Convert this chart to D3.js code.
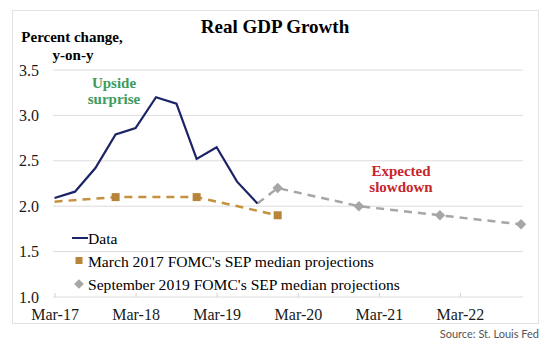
<!DOCTYPE html>
<html>
<head>
<meta charset="utf-8">
<script src="https://cdn.jsdelivr.net/npm/d3@7"></script>
<style>
  body { margin: 0; background: #fff; }
  svg text { font-family: "Liberation Serif", "Times New Roman", serif; }
</style>
</head>
<body>
<div id="chart"></div>
<script>
// quarterly real GDP growth, y-on-y
const dataDates = ["2017-03", "2017-06", "2017-09", "2017-12", "2018-03", "2018-06",
                   "2018-09", "2018-12", "2019-03", "2019-06", "2019-09"];
const dataValues = [2.09, 2.16, 2.42, 2.79, 2.86, 3.2, 3.13, 2.52, 2.65, 2.27, 2.03];

// March 2017 SEP (first point is the starting value, no marker)
const sep17Dates = ["2017-03", "2017-12", "2018-12", "2019-12"];
const sep17Values = [2.05, 2.1, 2.1, 1.9];

// September 2019 SEP (starts from last data point)
const sep19Dates = ["2019-09", "2019-12", "2020-12", "2021-12", "2022-12"];
const sep19Values = [2.03, 2.2, 2.0, 1.9, 1.8];

const tickLabels = ["Mar-17", "Mar-18", "Mar-19", "Mar-20", "Mar-21", "Mar-22"];
const yTicks = [1.0, 1.5, 2.0, 2.5, 3.0, 3.5];

const parseQ = d3.timeParse("%Y-%m");
const parseTick = d3.timeParse("%b-%y");

const width = 550, height = 350;

const svg = d3.select("#chart")
  .append("svg")
    .attr("width", width)
    .attr("height", height);

// frame
svg.append("rect")
  .attr("x", 12.5).attr("y", 10.5)
  .attr("width", 526).attr("height", 313)
  .attr("fill", "none")
  .attr("stroke", "#e2e2e2");

// scales
const x = d3.scaleTime()
  .domain([new Date(2017, 1, 22), new Date(2022, 11, 10)])
  .range([53, 523]);

const y = d3.scaleLinear()
  .domain([1.0, 3.5])
  .range([297, 70]);

// gridlines
svg.append("g")
  .selectAll("line")
  .data(yTicks)
  .enter()
  .append("line")
    .attr("x1", 53).attr("x2", 523)
    .attr("y1", d => y(d)).attr("y2", d => y(d))
    .attr("stroke", "#dcdcdc");

// x axis
svg.append("g")
  .attr("transform", `translate(0,${y(1.0)})`)
  .call(d3.axisBottom(x)
    .tickValues(tickLabels.map(parseTick))
    .tickFormat(d3.timeFormat("%b-%y"))
    .tickSizeInner(-4).tickSizeOuter(0).tickPadding(12))
  .call(g => g.select(".domain").remove())
  .call(g => g.selectAll("line").attr("stroke", "#d0d0d0"))
  .call(g => g.selectAll("text")
    .attr("font-size", "16px")
    .attr("fill", "#1a1a1a"));

// y axis
svg.append("g")
  .attr("transform", "translate(53,0)")
  .call(d3.axisLeft(y).tickValues(yTicks).tickFormat(d3.format(".1f")).tickSize(0).tickPadding(14))
  .call(g => g.select(".domain").remove())
  .call(g => g.selectAll("text")
    .attr("font-size", "16px")
    .attr("fill", "#1a1a1a"));

const line = d3.line()
  .x(d => x(d.date))
  .y(d => y(d.value));

const toPts = (dates, values) => dates.map((d, i) => ({ date: parseQ(d), value: values[i] }));
const dataPts = toPts(dataDates, dataValues);
const sep17Pts = toPts(sep17Dates, sep17Values);
const sep19Pts = toPts(sep19Dates, sep19Values);

// Sep 2019 projections
svg.append("path")
  .datum(sep19Pts)
  .attr("d", line)
  .attr("fill", "none")
  .attr("stroke", "#a6a6a6")
  .attr("stroke-width", 2.5)
  .attr("stroke-dasharray", "8,6");

svg.selectAll("path.diamond")
  .data(sep19Pts.slice(1))
  .enter()
  .append("path")
    .attr("class", "diamond")
    .attr("transform", d => `translate(${x(d.date)},${y(d.value)})`)
    .attr("d", d3.symbol(d3.symbolDiamond2, 70))
    .attr("fill", "#a6a6a6");

// March 2017 projections
svg.append("path")
  .datum(sep17Pts)
  .attr("d", line)
  .attr("fill", "none")
  .attr("stroke", "#c4913f")
  .attr("stroke-width", 2.5)
  .attr("stroke-dasharray", "8,6");

svg.selectAll("rect.sq")
  .data(sep17Pts.slice(1))
  .enter()
  .append("rect")
    .attr("class", "sq")
    .attr("x", d => x(d.date) - 4)
    .attr("y", d => y(d.value) - 4)
    .attr("width", 8).attr("height", 8)
    .attr("fill", "#b8843a");

// Data
svg.append("path")
  .datum(dataPts)
  .attr("d", line)
  .attr("fill", "none")
  .attr("stroke", "#1b2466")
  .attr("stroke-width", 2.2);

// title and axis title
svg.append("text")
  .attr("x", 275).attr("y", 33)
  .attr("text-anchor", "middle")
  .attr("font-size", "19px")
  .attr("font-weight", "bold")
  .text("Real GDP Growth");

svg.append("text")
  .attr("x", 72).attr("y", 42)
  .attr("text-anchor", "middle")
  .attr("font-size", "15px")
  .attr("font-weight", "bold")
  .text("Percent change,");

svg.append("text")
  .attr("x", 73).attr("y", 60)
  .attr("text-anchor", "middle")
  .attr("font-size", "15px")
  .attr("font-weight", "bold")
  .text("y-on-y");

// annotations
const note = (txt, xx, yy, col) => svg.append("text")
  .attr("x", xx).attr("y", yy)
  .attr("text-anchor", "middle")
  .attr("font-size", "15px")
  .attr("font-weight", "bold")
  .attr("fill", col)
  .text(txt);

note("Upside", 114, 88, "#3e9b5c");
note("surprise", 114, 104, "#3e9b5c");
note("Expected", 401, 176, "#c8242b");
note("slowdown", 401, 192, "#c8242b");

// legend
const legend = svg.append("g");
legend.append("line")
  .attr("x1", 72).attr("x2", 88)
  .attr("y1", 238).attr("y2", 238)
  .attr("stroke", "#1b2466").attr("stroke-width", 2);
legend.append("text")
  .attr("x", 88).attr("y", 243.5)
  .attr("font-size", "15.6px")
  .text("Data");

legend.append("rect")
  .attr("x", 75.5).attr("y", 257)
  .attr("width", 7).attr("height", 7)
  .attr("fill", "#b8843a");
legend.append("text")
  .attr("x", 88).attr("y", 266.5)
  .attr("font-size", "15.6px")
  .text("March 2017 FOMC's SEP median projections");

legend.append("path")
  .attr("transform", "translate(79,284)")
  .attr("d", d3.symbol(d3.symbolDiamond2, 60))
  .attr("fill", "#a6a6a6");
legend.append("text")
  .attr("x", 88).attr("y", 289.5)
  .attr("font-size", "15.6px")
  .text("September 2019 FOMC's SEP median projections");

// source
svg.append("text")
  .attr("x", 539).attr("y", 338)
  .attr("text-anchor", "end")
  .attr("font-size", "11px")
  .style("font-family", "Lato, sans-serif")
  .attr("fill", "#555")
  .text("Source: St. Louis Fed");
</script>
</body>
</html>
